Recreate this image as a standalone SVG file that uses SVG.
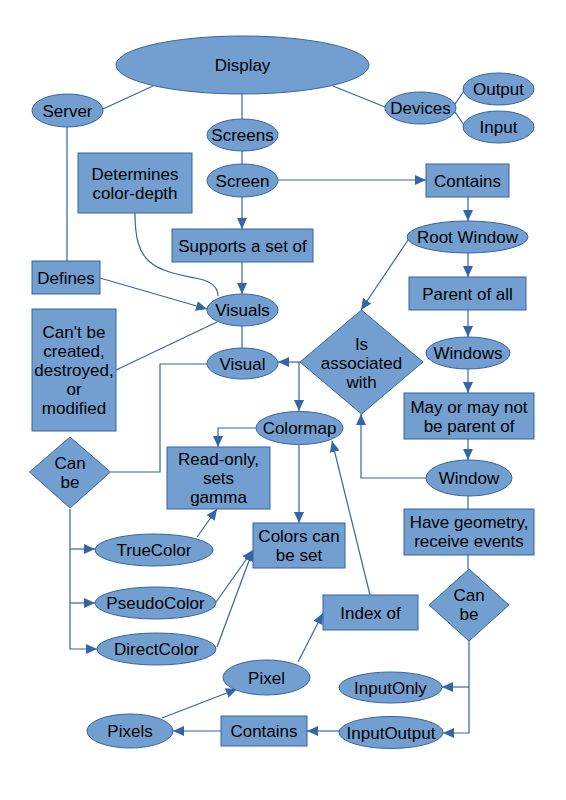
<svg xmlns="http://www.w3.org/2000/svg" width="566" height="800" viewBox="0 0 566 800">
<style>
.n{fill:#729fcf;stroke:#3465a4;stroke-width:1}
.t{font-family:"Liberation Sans",Arial,sans-serif;font-size:17px;fill:#000;text-anchor:middle}
.c{fill:none;stroke:#3465a4;stroke-width:1.2}
.a{marker-end:url(#ah)}
</style>
<defs>
<marker id="ah" markerUnits="userSpaceOnUse" markerWidth="12" markerHeight="10" refX="11" refY="5" orient="auto">
<path d="M0,0 L11,5 L0,10 z" fill="#3465a4"/>
</marker>
</defs>
<rect width="566" height="800" fill="#fff"/>
<g id="connectors">
<line class="c" x1="153" y1="86" x2="103" y2="109"/>
<line class="c" x1="242" y1="94" x2="242" y2="119"/>
<line class="c" x1="333" y1="86" x2="385" y2="107"/>
<line class="c" x1="455" y1="104" x2="464" y2="91"/>
<line class="c" x1="455" y1="112" x2="464" y2="125"/>
<line class="c" x1="242" y1="151" x2="242" y2="164"/>
<line class="c a" x1="278" y1="180" x2="426" y2="180"/>
<line class="c a" x1="242" y1="197" x2="242" y2="229"/>
<line class="c a" x1="468" y1="197" x2="468" y2="221"/>
<line class="c a" x1="468" y1="253" x2="468" y2="277"/>
<line class="c a" x1="468" y1="310" x2="468" y2="337"/>
<line class="c a" x1="468" y1="369" x2="468" y2="393"/>
<line class="c a" x1="468" y1="439" x2="468" y2="460"/>
<line class="c" x1="468" y1="496" x2="468" y2="509"/>
<line class="c" x1="468" y1="555" x2="468" y2="569"/>
<path class="c a" d="M469,641 V733 H443"/>
<path class="c a" d="M469,687 H442"/>
<line class="c a" x1="339" y1="731" x2="307" y2="731"/>
<line class="c a" x1="221" y1="731" x2="173" y2="731"/>
<line class="c a" x1="162" y1="718" x2="237" y2="689"/>
<line class="c a" x1="298" y1="662" x2="323" y2="613"/>
<line class="c a" x1="370" y1="595" x2="332" y2="441"/>
<path class="c a" d="M426,478 H361 V414"/>
<line class="c a" x1="408" y1="240" x2="361" y2="310"/>
<path class="c a" d="M300,362 H278"/>
<path class="c a" d="M299,362 V411"/>
<line class="c a" x1="299" y1="445" x2="299" y2="523"/>
<path class="c a" d="M256,428 H218 V447"/>
<line class="c a" x1="197" y1="537" x2="217" y2="509"/>
<line class="c a" x1="216" y1="602" x2="253" y2="550"/>
<line class="c a" x1="217" y1="647" x2="253" y2="550"/>
<path class="c" d="M207,364 H160 V472 H111"/>
<path class="c a" d="M70,509 V649 H97"/>
<path class="c a" d="M70,549 H95"/>
<path class="c a" d="M70,603 H95"/>
<line class="c" x1="217" y1="322" x2="116" y2="370"/>
<line class="c" x1="242" y1="326" x2="242" y2="348"/>
<line class="c a" x1="242" y1="262" x2="242" y2="294"/>
<line class="c a" x1="100" y1="278" x2="207" y2="309"/>
<path class="c" d="M135,213 C135,262 150,270 200,279 C212,282 218,288 218,296"/>
<line class="c" x1="67" y1="127" x2="67" y2="261"/>
</g>
<g id="display"><ellipse class="n" cx="242.5" cy="65" rx="126.5" ry="29"/><text class="t" x="242.5" y="71">Display</text></g>
<g id="server"><ellipse class="n" cx="67.5" cy="110.5" rx="35.5" ry="16.5"/><text class="t" x="67.5" y="116.5">Server</text></g>
<g id="screens"><ellipse class="n" cx="242.5" cy="135" rx="35.5" ry="16"/><text class="t" x="242.5" y="141">Screens</text></g>
<g id="screen"><ellipse class="n" cx="242.5" cy="180.5" rx="35.5" ry="16.5"/><text class="t" x="242.5" y="186.5">Screen</text></g>
<g id="devices"><ellipse class="n" cx="420.5" cy="108" rx="35.5" ry="16"/><text class="t" x="420.5" y="114">Devices</text></g>
<g id="output"><ellipse class="n" cx="498.5" cy="89" rx="35.5" ry="16"/><text class="t" x="498.5" y="95">Output</text></g>
<g id="input"><ellipse class="n" cx="498.5" cy="127" rx="35.5" ry="16"/><text class="t" x="498.5" y="133">Input</text></g>
<g id="determines"><rect class="n" x="78" y="153" width="114" height="60"/><text class="t" x="135" y="180">Determines</text><text class="t" x="135" y="199">color-depth</text></g>
<g id="contains-top"><rect class="n" x="426" y="164" width="83" height="33"/><text class="t" x="467.5" y="186.5">Contains</text></g>
<g id="supports"><rect class="n" x="172" y="229" width="141" height="33"/><text class="t" x="242.5" y="251.5">Supports a set of</text></g>
<g id="rootwindow"><ellipse class="n" cx="467.5" cy="237" rx="60.5" ry="16"/><text class="t" x="467.5" y="243">Root Window</text></g>
<g id="defines"><rect class="n" x="32" y="261" width="68" height="33"/><text class="t" x="66" y="283.5">Defines</text></g>
<g id="parentofall"><rect class="n" x="409" y="277" width="117" height="33"/><text class="t" x="467.5" y="299.5">Parent of all</text></g>
<g id="visuals"><ellipse class="n" cx="242.5" cy="310" rx="35.5" ry="16"/><text class="t" x="242.5" y="316">Visuals</text></g>
<g id="cantbe"><rect class="n" x="32" y="309" width="84" height="122"/><text class="t" x="74" y="338">Can't be</text><text class="t" x="74" y="357">created,</text><text class="t" x="74" y="376">destroyed,</text><text class="t" x="74" y="395">or</text><text class="t" x="74" y="414">modified</text></g>
<g id="windows"><ellipse class="n" cx="468" cy="353" rx="42" ry="16"/><text class="t" x="468" y="359">Windows</text></g>
<g id="isassociated"><polygon class="n" points="361.5,310 423,362 361.5,414 300,362"/><text class="t" x="361.5" y="350">Is</text><text class="t" x="361.5" y="369">associated</text><text class="t" x="361.5" y="388">with</text></g>
<g id="visual"><ellipse class="n" cx="242.5" cy="363.5" rx="35.5" ry="15.5"/><text class="t" x="242.5" y="369.5">Visual</text></g>
<g id="mayormaynot"><rect class="n" x="404" y="393" width="130" height="46"/><text class="t" x="469" y="413">May or may not</text><text class="t" x="469" y="432">be parent of</text></g>
<g id="colormap"><ellipse class="n" cx="299.5" cy="428" rx="43.5" ry="16.5"/><text class="t" x="299.5" y="434">Colormap</text></g>
<g id="canbe-left"><polygon class="n" points="70,437 110.5,472 70,508 29.5,472"/><text class="t" x="70" y="469">Can</text><text class="t" x="70" y="488">be</text></g>
<g id="readonly"><rect class="n" x="167" y="447" width="103" height="62"/><text class="t" x="218.5" y="465">Read-only,</text><text class="t" x="218.5" y="484">sets</text><text class="t" x="218.5" y="503">gamma</text></g>
<g id="window"><ellipse class="n" cx="469" cy="478" rx="43" ry="18"/><text class="t" x="469" y="484">Window</text></g>
<g id="havegeometry"><rect class="n" x="404" y="509" width="130" height="46"/><text class="t" x="469" y="528">Have geometry,</text><text class="t" x="469" y="547">receive events</text></g>
<g id="colorscanbeset"><rect class="n" x="253" y="523" width="92" height="45"/><text class="t" x="299" y="542">Colors can</text><text class="t" x="299" y="561">be set</text></g>
<g id="truecolor"><ellipse class="n" cx="154" cy="550" rx="59" ry="16"/><text class="t" x="154" y="556">TrueColor</text></g>
<g id="canbe-right"><polygon class="n" points="469,569 509,605 469,641 429,605"/><text class="t" x="469" y="601">Can</text><text class="t" x="469" y="620">be</text></g>
<g id="pseudocolor"><ellipse class="n" cx="155.5" cy="603" rx="60.5" ry="16"/><text class="t" x="155.5" y="609">PseudoColor</text></g>
<g id="indexof"><rect class="n" x="323" y="595" width="95" height="35"/><text class="t" x="370.5" y="618.5">Index of</text></g>
<g id="directcolor"><ellipse class="n" cx="156.5" cy="649" rx="59.5" ry="16"/><text class="t" x="156.5" y="655">DirectColor</text></g>
<g id="pixel"><ellipse class="n" cx="266.5" cy="677.5" rx="43.5" ry="17.5"/><text class="t" x="266.5" y="683.5">Pixel</text></g>
<g id="inputonly"><ellipse class="n" cx="390.5" cy="687.5" rx="51.5" ry="15.5"/><text class="t" x="390.5" y="693.5">InputOnly</text></g>
<g id="pixels"><ellipse class="n" cx="130" cy="731" rx="43" ry="17"/><text class="t" x="130" y="737">Pixels</text></g>
<g id="contains-bottom"><rect class="n" x="221" y="716" width="86" height="30"/><text class="t" x="264" y="737">Contains</text></g>
<g id="inputoutput"><ellipse class="n" cx="391" cy="732.5" rx="52" ry="16"/><text class="t" x="391" y="738.5">InputOutput</text></g>
</svg>
